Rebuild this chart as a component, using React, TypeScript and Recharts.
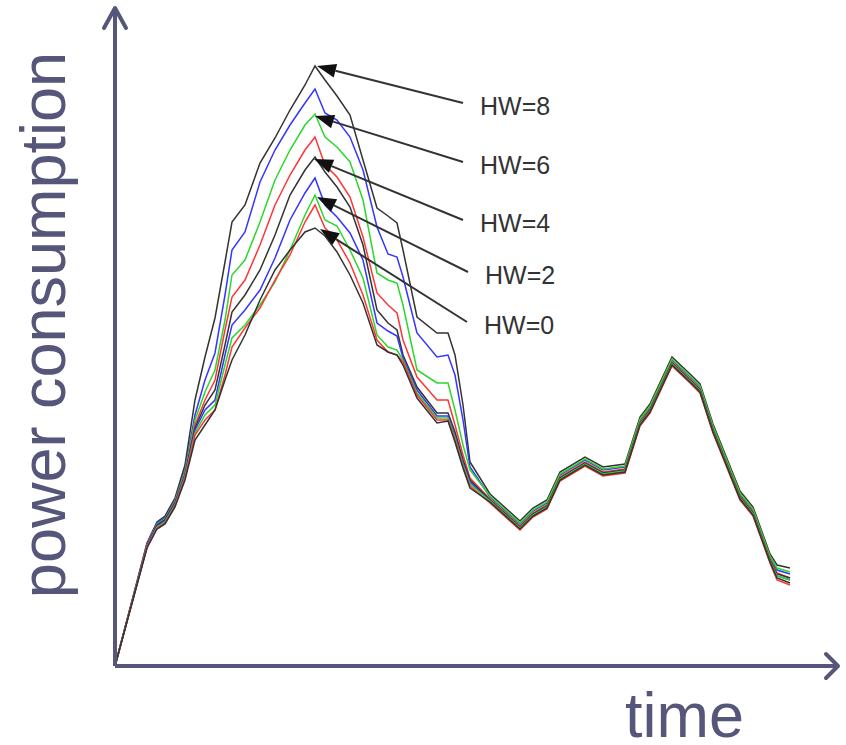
import { LineChart, Line, XAxis, YAxis, ReferenceLine, ReferenceDot } from 'recharts';

// time samples (arbitrary units)
const time = [
  0, 32, 42, 50, 60, 70, 80, 90, 100, 110, 117, 130, 145, 160, 175, 190, 200,
  210, 222, 235, 248, 262, 273, 282, 288, 302, 322, 333, 340, 348, 355,
  375, 405, 418, 432, 445, 470, 488, 510, 525, 535, 557, 575, 585, 598, 625, 638, 655, 662, 675
];

// power consumption per hardware setting
const hw8 = [
  0, 123, 144, 150, 168, 201, 266, 309, 348, 404, 444, 461, 503, 528, 556, 581, 600,
  586, 570, 551, 506, 458, 450, 443, 416, 349, 333, 333, 311, 261, 204,
  172, 145, 158, 166, 194, 209, 199, 202, 249, 262, 309, 292, 282, 242, 175, 159, 112, 101, 98
];
const hw7 = [
  0, 122, 143, 148, 166, 196, 251, 286, 313, 371, 416, 434, 484, 516, 541, 563, 577,
  553, 546, 529, 496, 439, 412, 409, 389, 333, 309, 311, 291, 246, 199,
  169, 142, 155, 163, 191, 206, 196, 199, 246, 259, 306, 289, 279, 239, 172, 156, 109, 96, 92
];
const hw6 = [
  0, 121, 142, 147, 165, 194, 246, 274, 296, 346, 391, 406, 444, 486, 516, 541, 552,
  529, 519, 504, 466, 393, 386, 383, 361, 296, 283, 283, 256, 221, 196,
  170, 143, 156, 164, 192, 207, 197, 200, 247, 260, 307, 290, 280, 240, 173, 157, 110, 98, 94
];
const hw5 = [
  0, 121, 141, 146, 164, 192, 241, 266, 286, 336, 369, 386, 421, 461, 491, 516, 529,
  501, 489, 469, 429, 373, 361, 353, 326, 289, 266, 266, 241, 211, 188,
  167, 140, 153, 161, 189, 204, 194, 197, 244, 257, 304, 287, 277, 237, 170, 154, 107, 93, 88
];
const hw4 = [
  0, 120, 141, 146, 163, 191, 238, 261, 276, 321, 354, 371, 396, 431, 471, 496, 509,
  494, 479, 459, 421, 356, 343, 336, 311, 279, 253, 253, 234, 206, 186,
  166, 139, 152, 160, 188, 203, 193, 196, 243, 256, 303, 286, 276, 236, 169, 153, 106, 92, 88
];
const hw3 = [
  0, 120, 140, 145, 162, 190, 236, 256, 266, 311, 341, 356, 376, 408, 446, 473, 488,
  461, 449, 433, 406, 343, 335, 330, 308, 276, 250, 250, 230, 203, 184,
  165, 138, 151, 159, 187, 202, 192, 195, 242, 255, 302, 285, 275, 235, 168, 152, 105, 90, 86
];
const hw2 = [
  0, 119, 139, 144, 161, 189, 233, 251, 261, 301, 328, 341, 361, 384, 416, 451, 471,
  446, 440, 416, 388, 331, 319, 316, 306, 273, 248, 248, 228, 201, 182,
  165, 138, 151, 159, 187, 202, 192, 195, 242, 255, 302, 285, 275, 235, 168, 152, 105, 90, 86
];
const hw1 = [
  0, 119, 138, 143, 160, 188, 231, 246, 256, 291, 319, 338, 358, 386, 411, 444, 461,
  438, 426, 403, 371, 326, 314, 311, 304, 271, 246, 246, 226, 199, 180,
  163, 136, 149, 157, 185, 200, 190, 193, 240, 253, 300, 283, 273, 233, 166, 150, 103, 86, 81
];
const hw0 = [
  0, 118, 137, 142, 159, 186, 226, 241, 256, 286, 306, 331, 366, 396, 416, 434, 438,
  430, 414, 391, 363, 321, 314, 311, 301, 268, 243, 245, 224, 198, 178,
  164, 137, 150, 158, 186, 201, 191, 194, 241, 254, 301, 284, 274, 234, 167, 151, 104, 88, 83
];

const series = [
  { key: 'hw8', values: hw8, color: '#333333' },
  { key: 'hw7', values: hw7, color: '#3535ff' },
  { key: 'hw6', values: hw6, color: '#2ad82a' },
  { key: 'hw5', values: hw5, color: '#ff3535' },
  { key: 'hw4', values: hw4, color: '#333333' },
  { key: 'hw3', values: hw3, color: '#3535ff' },
  { key: 'hw2', values: hw2, color: '#2ad82a' },
  { key: 'hw1', values: hw1, color: '#ff3535' },
  { key: 'hw0', values: hw0, color: '#333333' },
];

// annotations: label, where the label sits, where the arrow points
const hwLabels = ['HW=8', 'HW=6', 'HW=4', 'HW=2', 'HW=0'];
const labelTime = [348, 348, 348, 353, 352];
const labelPower = [563, 504, 446, 394, 344];
const tipTime = [202, 200, 199, 202, 205];
const tipPower = [600, 550, 507, 469, 437];

const data = time.map((t, i) => {
  const row: any = { t };
  series.forEach((s) => (row[s.key] = s.values[i]));
  return row;
});

const AXIS = '#56567a';

function arrowShape(label: string) {
  return (props: any) => {
    const { x1, y1, x2, y2 } = props;
    const ang = Math.atan2(y2 - y1, x2 - x1);
    const len = 19;
    const hw = 7;
    const bx = x2 - len * Math.cos(ang);
    const by = y2 - len * Math.sin(ang);
    const px = -Math.sin(ang) * hw;
    const py = Math.cos(ang) * hw;
    return (
      <g>
        <line x1={x1} y1={y1} x2={bx} y2={by} stroke="#333" strokeWidth={2} />
        <polygon points={`${x2},${y2} ${bx + px},${by + py} ${bx - px},${by - py}`} fill="#111" />
        <text x={x1 + 17} y={y1 + 12} fontSize={25} fill="#333" fontFamily="'Liberation Sans', Arial, sans-serif">
          {label}
        </text>
      </g>
    );
  };
}

const UpArrow = (props: any) => {
  const { cx, cy } = props;
  return (
    <g>
      <path d={`M${cx - 11},${cy + 20} L${cx},${cy} L${cx + 11},${cy + 20}`} fill="none" stroke={AXIS} strokeWidth={4} strokeLinecap="round" strokeLinejoin="round" />
      <text
        x={cx - 50}
        y={cy + 317}
        transform={`rotate(-90 ${cx - 50} ${cy + 317})`}
        textAnchor="middle"
        fontSize={63}
        fill={AXIS}
        fontFamily="'Liberation Sans', Arial, sans-serif"
      >
        power consumption
      </text>
    </g>
  );
};

const RightArrow = (props: any) => {
  const { cx, cy } = props;
  return (
    <g>
      <path d={`M${cx - 12},${cy - 12} L${cx},${cy} L${cx - 12},${cy + 12}`} fill="none" stroke={AXIS} strokeWidth={4} strokeLinecap="round" strokeLinejoin="round" />
      <text x={cx - 213} y={cy + 71} fontSize={63} fill={AXIS} fontFamily="'Liberation Sans', Arial, sans-serif">
        time
      </text>
    </g>
  );
};

export default function App() {
  return (
    <div style={{ position: 'absolute', left: 0, top: 0, width: 846, height: 745, background: '#fff' }}>
      <LineChart width={846} height={745} data={data} margin={{ top: 8, right: 8, bottom: 79, left: 115 }}>
        <XAxis dataKey="t" type="number" domain={[0, 723]} hide />
        <YAxis type="number" domain={[0, 658]} hide />
        {series.map((s) => (
          <Line
            key={s.key}
            dataKey={s.key}
            type="linear"
            stroke={s.color}
            strokeWidth={1.5}
            dot={false}
            isAnimationActive={false}
          />
        ))}
        <ReferenceLine segment={[{ x: 0, y: 0 }, { x: 0, y: 658 }]} stroke={AXIS} strokeWidth={4} ifOverflow="visible" />
        <ReferenceLine segment={[{ x: 0, y: 0 }, { x: 723, y: 0 }]} stroke={AXIS} strokeWidth={4} ifOverflow="visible" />
        <ReferenceDot x={0} y={658} r={1} ifOverflow="visible" shape={UpArrow} />
        <ReferenceDot x={723} y={0} r={1} ifOverflow="visible" shape={RightArrow} />
        {hwLabels.map((lab, i) => (
          <ReferenceLine
            key={lab}
            segment={[
              { x: labelTime[i], y: labelPower[i] },
              { x: tipTime[i], y: tipPower[i] },
            ]}
            ifOverflow="visible"
            shape={arrowShape(lab)}
          />
        ))}
      </LineChart>
    </div>
  );
}
